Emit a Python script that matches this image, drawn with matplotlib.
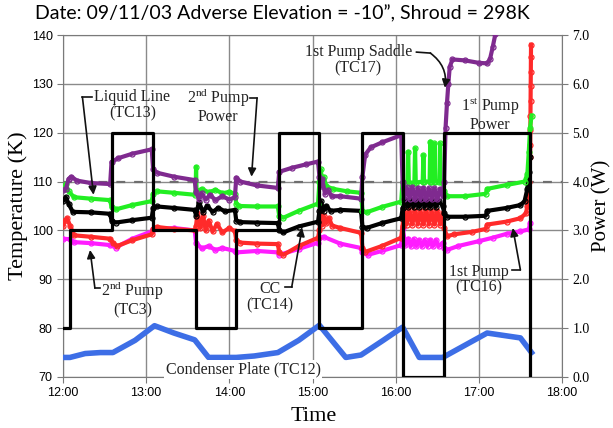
import matplotlib
matplotlib.use("Agg")
import matplotlib.pyplot as plt
import matplotlib.dates as mdates
import pandas as pd

DAY = "2003-09-11 "

# thermocouple traces, clock time -> temperature (K)
tc17_time = ["12:00", "12:02", "12:04", "12:06", "12:10", "12:20", "12:34", "12:35", "12:40", "12:50",
             "13:04", "13:05", "13:08", "13:20", "13:35", "13:36", "13:38", "13:40", "13:43", "13:46",
             "13:50", "13:55", "14:00", "14:04", "14:05", "14:08", "14:20", "14:35", "14:36", "14:45",
             "14:55", "15:04", "15:05", "15:06", "15:07", "15:09", "15:11", "15:14", "15:20", "15:35",
             "15:36", "15:38", "15:42", "15:50", "16:04", "16:05", "16:06", "16:08", "16:10", "16:12",
             "16:14", "16:16", "16:18", "16:20", "16:22", "16:24", "16:26", "16:28", "16:30", "16:32",
             "16:34", "16:35", "16:36", "16:37", "16:38", "16:39", "16:41", "16:50", "17:00", "17:06",
             "17:08", "17:10", "17:12"]
tc17_temp = [108.2, 108.5, 110.5, 111.0, 110.2, 109.7, 109.5, 114.0, 114.8, 115.7,
             116.6, 112.5, 111.8, 111.0, 110.3, 107.8, 106.5, 107.6, 106.3, 107.3,
             106.2, 107.0, 106.3, 106.8, 110.8, 110.0, 109.2, 108.7, 112.0, 112.8,
             113.5, 114.1, 111.0, 109.0, 110.5, 107.5, 108.2, 107.0, 107.0, 106.5,
             111.0, 115.5, 117.0, 118.0, 119.5, 110.0, 106.5, 108.8, 106.5, 108.8,
             106.4, 108.7, 106.4, 108.7, 106.4, 108.6, 106.4, 108.6, 106.4, 108.5,
             107.0, 110.0, 121.0, 126.0, 130.0, 133.5, 135.0, 134.8, 134.3, 134.2,
             135.0, 137.5, 140.3]

tc13_time = ["12:00", "12:02", "12:04", "12:08", "12:20", "12:34", "12:35", "12:38", "12:50", "13:04",
             "13:05", "13:08", "13:20", "13:35", "13:35:40", "13:36", "13:36:20", "13:40", "13:45", "13:50",
             "13:55", "14:00", "14:04", "14:05", "14:07", "14:20", "14:35", "14:36", "14:39", "14:50",
             "15:04", "15:05", "15:06", "15:07", "15:08", "15:10", "15:15", "15:25", "15:35", "15:36",
             "15:39", "15:50", "16:04", "16:05", "16:08:30", "16:09", "16:09:30", "16:13:30", "16:14",
             "16:14:30", "16:19:30", "16:20", "16:20:30", "16:24:30", "16:25", "16:25:30", "16:27:30",
             "16:28", "16:28:30", "16:31:30", "16:32", "16:32:30", "16:34", "16:35", "16:37", "16:50",
             "17:05", "17:06", "17:20", "17:33", "17:35", "17:36", "17:37", "17:38"]
tc13_temp = [108.5, 109.5, 108.0, 106.8, 106.5, 106.2, 104.8, 104.3, 105.2, 106.0,
             107.5, 108.0, 107.7, 107.3, 108.0, 113.0, 108.0, 108.5, 107.8, 108.3,
             107.6, 107.9, 107.5, 105.5, 105.0, 104.9, 104.9, 103.0, 102.6, 104.0,
             105.5, 110.0, 112.5, 109.5, 111.0, 109.0, 108.5, 108.0, 107.7, 104.0,
             103.7, 104.8, 105.9, 110.0, 109.8, 116.1, 109.8, 109.8, 116.8,
             109.8, 110.0, 115.4, 110.0, 110.0, 118.2, 110.0, 110.0,
             117.8, 110.0, 110.0, 117.8, 110.0, 110.0, 108.0, 107.0, 107.0,
             107.5, 108.5, 109.3, 110.0, 111.5, 116.0, 121.0, 123.5]

tc14_time = ["12:00", "12:02", "12:04", "12:07", "12:20", "12:34", "12:35", "12:38", "12:50", "13:04",
             "13:05", "13:08", "13:20", "13:35", "13:36", "13:38", "13:41", "13:44", "13:48", "13:52",
             "13:57", "14:04", "14:05", "14:08", "14:20", "14:35", "14:36", "14:39", "14:50", "15:04",
             "15:05", "15:06", "15:08", "15:10", "15:13", "15:20", "15:35", "15:36", "15:39", "15:50",
             "16:04", "16:05", "16:07", "16:09", "16:11", "16:13", "16:15", "16:17", "16:19", "16:21",
             "16:23", "16:25", "16:27", "16:29", "16:31", "16:34", "16:35", "16:37", "16:50", "17:05",
             "17:06", "17:20", "17:30", "17:33", "17:35", "17:36", "17:37"]
tc14_temp = [106.0, 106.8, 105.5, 103.8, 103.7, 103.4, 102.0, 101.6, 102.1, 102.6,
             104.5, 104.9, 104.6, 104.2, 103.0, 105.8, 103.8, 105.0, 103.8, 104.6,
             103.9, 104.2, 102.0, 101.7, 101.6, 101.5, 100.0, 99.6, 100.8, 101.8,
             104.0, 106.0, 104.0, 105.0, 104.0, 104.2, 104.0, 100.8, 100.5, 101.5,
             102.5, 104.5, 106.3, 104.8, 106.2, 104.8, 106.2, 104.8, 106.2, 104.8,
             106.0, 104.8, 106.0, 104.8, 106.0, 105.0, 103.5, 102.8, 102.8, 103.0,
             104.0, 104.6, 105.2, 106.0, 108.5, 112.0, 115.0]

tc16_time = ["12:00", "12:01", "12:03", "12:05", "12:08", "12:20", "12:34", "12:36", "12:39", "12:50",
             "13:04", "13:05", "13:08", "13:20", "13:35", "13:36", "13:37", "13:39", "13:41", "13:43",
             "13:45", "13:48", "13:51", "13:55", "14:00", "14:04", "14:05", "14:08", "14:20", "14:35",
             "14:36", "14:39", "14:50", "15:04", "15:05", "15:06", "15:07", "15:08", "15:10", "15:12",
             "15:14", "15:20", "15:35", "15:36", "15:38", "15:50", "16:04", "16:05", "16:06",
             "16:08", "16:10", "16:12", "16:14", "16:16", "16:18", "16:20", "16:22", "16:24", "16:26",
             "16:28", "16:30", "16:32", "16:34", "16:35", "16:37", "16:42", "16:55", "17:05", "17:06",
             "17:20", "17:30", "17:34", "17:35", "17:36", "17:37:00", "17:37:05", "17:37:10", "17:37:15",
             "17:37:20", "17:37:25", "17:37:30", "17:37:35", "17:37:40"]
tc16_temp = [101.0, 102.0, 102.5, 101.0, 99.0, 98.7, 98.3, 97.5, 96.8, 98.0,
             99.2, 100.3, 100.7, 100.3, 100.0, 101.0, 103.5, 100.5, 103.0, 100.0,
             102.0, 99.8, 101.3, 99.6, 100.5, 99.8, 98.0, 97.5, 97.3, 97.2,
             95.5, 95.0, 96.8, 98.5, 100.0, 104.0, 101.0, 103.0, 101.5, 102.5,
             101.0, 100.5, 99.5, 96.5, 95.6, 96.8, 98.5, 101.0, 104.2,
             101.2, 104.2, 101.2, 104.0, 101.2, 104.0, 101.2, 104.0, 101.2, 104.0,
             101.2, 104.0, 101.2, 103.5, 100.5, 98.8, 99.2, 99.7, 100.3, 101.2,
             101.8, 102.5, 103.5, 105.0, 110.0, 115.0, 117.5, 120.5, 123.5,
             126.5, 129.5, 132.5, 135.5, 138.0]

tc3_time = ["12:00", "12:05", "12:08", "12:20", "12:34", "12:38", "12:50", "13:04", "13:05", "13:20",
            "13:35", "13:36", "13:40", "13:45", "13:50", "13:55", "14:04", "14:05", "14:20", "14:35",
            "14:36", "14:50", "15:04", "15:05", "15:08", "15:20", "15:35", "15:36", "15:40", "15:50",
            "16:04", "16:05", "16:07", "16:09", "16:11", "16:13", "16:15", "16:17", "16:19", "16:21",
            "16:23", "16:25", "16:27", "16:29", "16:31", "16:34", "16:35", "16:37", "16:45", "17:00",
            "17:10", "17:20", "17:30", "17:36", "17:37"]
tc3_temp = [98.3, 98.2, 97.6, 97.4, 97.0, 96.5, 98.3, 99.8, 100.2, 100.5,
            100.0, 97.5, 96.3, 96.8, 96.0, 96.4, 95.8, 95.5, 95.8, 95.5,
            95.0, 96.2, 97.5, 98.5, 98.7, 97.3, 96.4, 95.5, 95.0, 95.8,
            97.0, 100.5, 97.0, 98.3, 96.8, 98.2, 96.8, 98.0, 96.8, 98.0,
            96.8, 98.0, 96.8, 98.0, 96.8, 97.5, 96.5, 96.0, 96.8, 97.8,
            98.5, 99.3, 99.8, 100.2, 101.5]

tc12_time = ["12:00", "12:05", "12:16", "12:27", "12:36", "12:52", "13:06", "13:20", "13:35", "13:45",
             "14:05", "14:18", "14:35", "14:50", "15:05", "15:24", "15:35", "15:51", "16:05", "16:17",
             "16:34", "16:50", "17:06", "17:30", "17:38"]
tc12_temp = [74.0, 74.0, 74.8, 75.0, 75.0, 77.5, 80.5, 79.0, 77.6, 74.0,
             74.0, 74.3, 75.0, 77.5, 80.6, 74.0, 74.5, 77.5, 80.2, 74.0,
             74.0, 76.5, 79.0, 78.0, 75.0]

# heater power schedule (W), each value holds until the next time
power_time = ["12:00", "12:05", "12:35", "13:05", "13:36", "14:05", "14:36", "15:05", "15:36",
              "16:05", "16:35", "17:37"]
power_watts = [1, 3, 5, 3, 1, 3, 5, 1, 5, 0, 5, 0]

# (times, temps, colour, marked)
SERIES = [
    (tc12_time, tc12_temp, "#3d6ee6", False),
    (tc3_time, tc3_temp, "#ff1cff", True),
    (tc16_time, tc16_temp, "#ff2a2a", True),
    (tc14_time, tc14_temp, "#000000", True),
    (tc13_time, tc13_temp, "#22ee22", True),
    (tc17_time, tc17_temp, "#7f2a8f", True),
]

SERIF = "Liberation Serif"
SANS = "Liberation Sans"
INK = "#222222"


def clock(ts):
    return pd.to_datetime([DAY + t for t in ts], format="mixed")


def at(t):
    return mdates.date2num(pd.Timestamp(DAY + t))


plt.rcParams["font.family"] = SERIF
plt.rcParams["mathtext.fontset"] = "custom"
plt.rcParams["mathtext.rm"] = SERIF

fig = plt.figure(figsize=(6.13, 4.28), dpi=100)
ax = fig.add_axes([0.1028, 0.1192, 0.814, 0.799])

for ts, temps, color, marked in SERIES:
    if marked:
        ax.plot(clock(ts), temps, color=color, lw=3.0, marker="o", ms=3.6,
                mfc="none", mew=0.9, solid_joinstyle="round", zorder=3)
    else:
        ax.plot(clock(ts), temps, color=color, lw=4.0, solid_joinstyle="round", zorder=3)

ax.axhline(110, color="#6e6e6e", lw=1.6, ls=(0, (4, 4)), zorder=2)

ax.set_xlim(at("12:00"), at("18:00"))
ax.set_ylim(70, 140)
ax.set_yticks(range(70, 141, 10))
ax.xaxis.set_major_locator(mdates.HourLocator())
ax.xaxis.set_major_formatter(mdates.DateFormatter("%H:%M"))
ax.grid(True, color="#8a8a8a", lw=1)
ax.set_axisbelow(True)
for s in ax.spines.values():
    s.set_color("#7a7a7a")
ax.tick_params(direction="out", length=4, color="#7a7a7a", labelsize=9)
for lab in ax.get_xticklabels() + ax.get_yticklabels():
    lab.set_family(SANS)

ax2 = ax.twinx()
ax2.step(clock(power_time), power_watts, where="post", color="black", lw=2.3, zorder=4)
ax2.set_ylim(0, 7)
ax2.set_yticks(range(0, 8))
ax2.set_yticklabels([f"{v:.1f}" for v in range(0, 8)])
for s in ax2.spines.values():
    s.set_visible(False)
ax2.tick_params(direction="out", length=4, color="#7a7a7a", labelsize=10)

fig.text(0.511, 0.026, "Time", ha="center", va="center", fontsize=16)
fig.text(0.03, 0.519, "Temperature (K)", ha="center", va="center", rotation=90, fontsize=16)
fig.text(0.982, 0.519, "Power (W)", ha="center", va="center", rotation=90, fontsize=15)
fig.text(0.46, 0.967, "Date: 09/11/03 Adverse Elevation = -10\u201d, Shroud = 298K",
         ha="center", va="center", fontsize=14, family="Lato")

# callouts: text, then a short elbow and an arrow to the trace
labels = [
    ("Liquid Line\n(TC13)", "12:50", 125.6),
    ("2$^{\\rm nd}$ Pump\nPower", "13:52", 125.6),
    ("1st Pump Saddle\n(TC17)", "15:33", 134.9),
    ("1$^{\\rm st}$ Pump\nPower", "17:08", 123.7),
    ("CC\n(TC14)", "14:29", 86.3),
    ("1st Pump\n(TC16)", "17:00", 89.9),
    ("2$^{\\rm nd}$ Pump\n(TC3)", "12:50", 86.0),
]
for text, t, temp in labels:
    ax.text(at(t), temp, text, ha="center", va="center", fontsize=11.5,
            linespacing=1.0, color=INK, zorder=6)

ax.text(at("14:10"), 71.5, "Condenser Plate (TC12)", ha="center", va="center",
        fontsize=11.5, color=INK, zorder=6,
        bbox=dict(facecolor="white", edgecolor="none", pad=1))

callouts = [
    ([("12:21", 127.3), ("12:14", 127.3)], ("12:22", 107.3), 0.0),
    ([("14:15", 127.1), ("14:20", 127.1)], ("14:16", 111.0), 0.0),
    ([("16:15", 136.5), ("16:25", 136.3)], ("16:35:30", 129.2), -0.3),
    ([("14:40", 88.4), ("14:45", 88.4)], ("14:52:30", 100.5), 0.0),
    ([("17:24", 91.9), ("17:30", 91.9)], ("17:24:30", 100.5), 0.0),
    ([("12:27", 88.2), ("12:23", 88.2)], ("12:19:30", 96.0), 0.0),
]
for elbow, tip, rad in callouts:
    ax.plot([at(t) for t, _ in elbow], [v for _, v in elbow], color="#111111", lw=1.2, zorder=6)
    start = elbow[-1]
    ax.annotate("", xy=(at(tip[0]), tip[1]), xytext=(at(start[0]), start[1]),
                arrowprops=dict(arrowstyle="-|>", color="#111111", lw=1.2,
                                mutation_scale=12, shrinkA=0, shrinkB=0,
                                connectionstyle=f"arc3,rad={rad}"),
                zorder=6)

fig.savefig("out.png", dpi=100)
